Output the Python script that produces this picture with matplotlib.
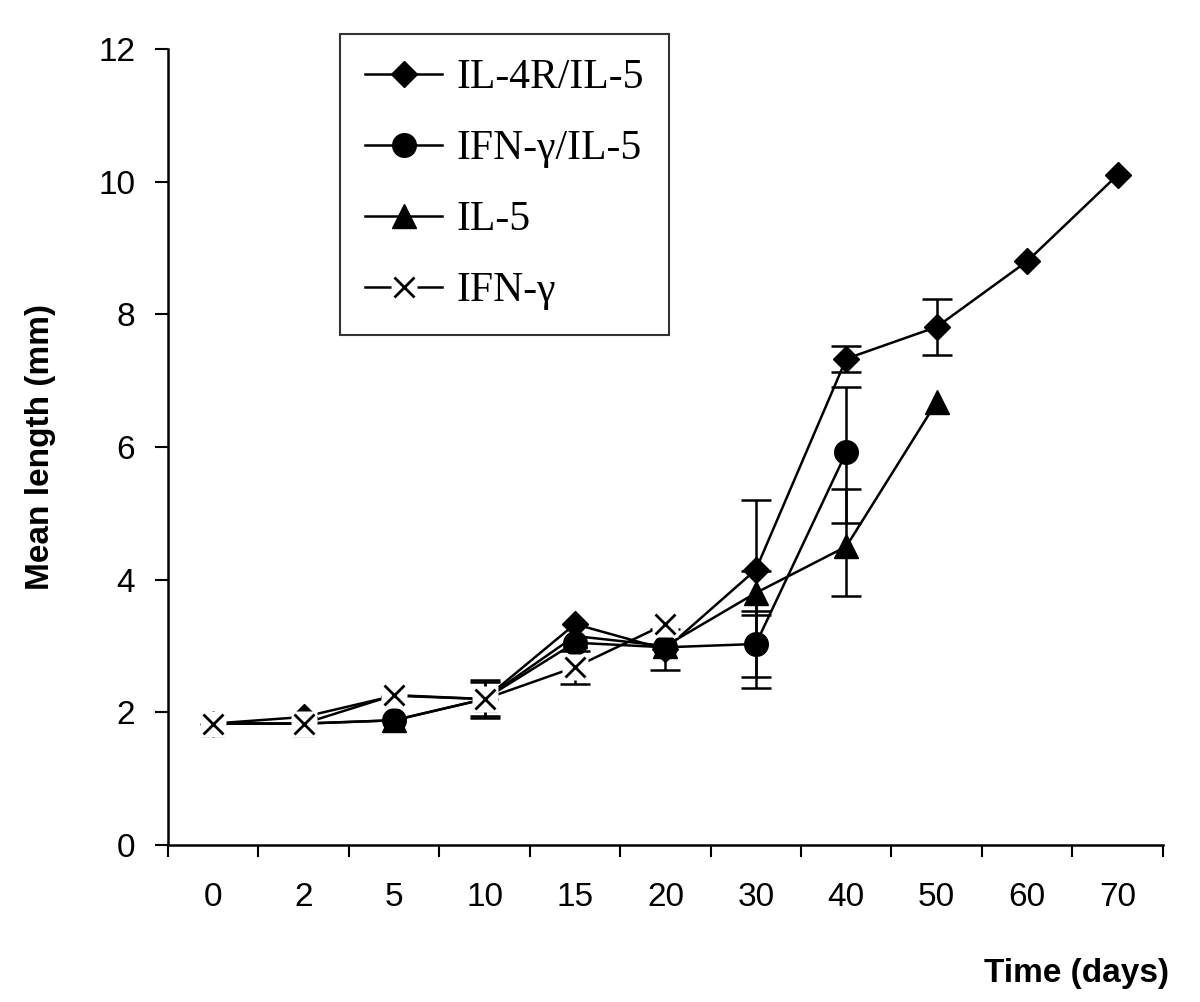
import numpy as np
import matplotlib.pyplot as plt
from matplotlib.ticker import FixedLocator, NullFormatter

nan = np.nan

days = ["0", "2", "5", "10", "15", "20", "30", "40", "50", "60", "70"]

# mean lengths (mm)
il4r_il5 = [1.83, 1.93, 2.25, 2.2, 3.33, 2.95, 4.15, 7.33, 7.81, 8.8, 10.1]
ifng_il5 = [1.83, 1.83, 1.88, 2.2, 3.05, 2.98, 3.03, 5.92, nan, nan, nan]
il5 = [1.83, 1.83, 1.88, 2.2, 3.15, 3.0, 3.8, 4.5, 6.68, nan, nan]
ifng = [1.83, 1.83, 2.26, 2.2, 2.68, 3.33, nan, nan, nan, nan, nan]

# error bars (lower, upper); 0 = none drawn
il4r_il5_lo = [0, 0, 0, 0.25, 0, 0.31, 1.78, 0.2, 0.42, 0, 0]
il4r_il5_hi = [0, 0, 0, 0.25, 0, 0.31, 1.05, 0.2, 0.42, 0, 0]
ifng_il5_lo = [0, 0, 0, 0, 0, 0, 0.5, 1.07, 0, 0, 0]
ifng_il5_hi = [0, 0, 0, 0, 0, 0, 0.5, 0.98, 0, 0, 0]
il5_lo = [0, 0, 0, 0, 0, 0, 0.33, 0.74, 0, 0, 0]
il5_hi = [0, 0, 0, 0, 0, 0, 0.33, 0.87, 0, 0, 0]
ifng_lo = [0, 0, 0, 0.28, 0.25, 0, 0, 0, 0, 0, 0]
ifng_hi = [0, 0, 0, 0.28, 0.25, 0, 0, 0, 0, 0, 0]

series = [
    ("IL-4R/IL-5", il4r_il5, il4r_il5_lo, il4r_il5_hi, "D", 13),
    ("IFN-\u03b3/IL-5", ifng_il5, ifng_il5_lo, ifng_il5_hi, "o", 17),
    ("IL-5", il5, il5_lo, il5_hi, "^", 17),
    ("IFN-\u03b3", ifng, ifng_lo, ifng_hi, "x", 15),
]

fig = plt.figure(figsize=(12, 10.02), dpi=100)
ax = fig.add_axes([0.14, 0.1567, 0.829, 0.7944])

x = np.arange(len(days))
handles = []
for name, vals, lo, hi, mk, ms in series:
    y = np.array(vals, dtype=float)
    lo = np.array(lo, dtype=float)
    hi = np.array(hi, dtype=float)
    m = (lo > 0) | (hi > 0)
    ax.errorbar(x[m], y[m], yerr=[lo[m], hi[m]], fmt="none", ecolor="black",
                elinewidth=1.8, capsize=11, capthick=1.8, zorder=2)
    if mk == "x":
        # excel-style cross: white box behind it hides what lies underneath
        ln, = ax.plot(x, y, color="black", lw=1.8, zorder=3)
        bg, = ax.plot(x, y, ls="none", marker="s", ms=19, mfc="white", mec="none", zorder=4)
        cr, = ax.plot(x, y, ls="none", marker="x", ms=15, mew=2, color="black", zorder=5)
        handles.append(((ln, bg, cr), name))
    else:
        ln, = ax.plot(x, y, color="black", lw=1.8, marker=mk, ms=ms,
                      mfc="black", mec="black", zorder=3)
        handles.append((ln, name))

ax.set_xlim(-0.5, len(days) - 0.5)
ax.set_ylim(0, 12)
ax.set_yticks(np.arange(0, 13, 2))
ax.set_xticks(x)
ax.set_xticklabels(days)
ax.xaxis.set_minor_locator(FixedLocator(np.arange(-0.5, len(days), 1)))
ax.xaxis.set_minor_formatter(NullFormatter())

for side in ["top", "right"]:
    ax.spines[side].set_visible(False)
for side in ["left", "bottom"]:
    ax.spines[side].set_linewidth(1.8)

ax.tick_params(axis="x", which="major", length=0, pad=27)
ax.tick_params(axis="x", which="minor", length=8.5, width=1.5, direction="out")
ax.tick_params(axis="y", length=9.5, width=1.5, direction="out", pad=14)
for lab in ax.get_xticklabels() + ax.get_yticklabels():
    lab.set_fontfamily("Liberation Sans")
    lab.set_fontsize(24)

ax.set_ylabel("Mean length (mm)", fontfamily="Liberation Sans", fontsize=24, fontweight="bold")
ax.yaxis.set_label_coords(-0.113, 0.5)
ax.set_xlabel("Time (days)", fontfamily="Liberation Sans", fontsize=24, fontweight="bold", loc="right")
ax.xaxis.set_label_coords(1.006, -0.142)
ax.xaxis.label.set_va("top")

leg = ax.legend([h for h, _ in handles], [n for _, n in handles],
                loc="upper left", bbox_to_anchor=(0.173, 1.019), borderaxespad=0,
                prop={"family": "Liberation Serif", "size": 30}, frameon=True,
                fancybox=False, edgecolor="black", handlelength=1.85,
                handletextpad=0.35, labelspacing=0.78, borderpad=0.6)
leg.get_frame().set_linewidth(1.5)

fig.savefig("out.png", dpi=100, facecolor="white")
